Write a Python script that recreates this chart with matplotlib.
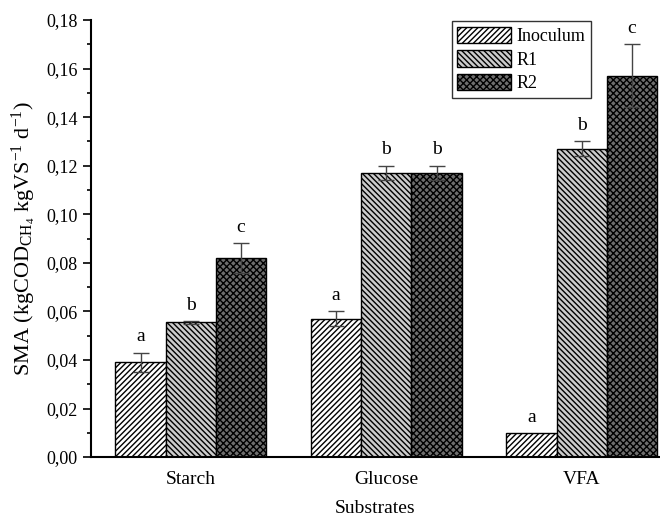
import matplotlib
matplotlib.use("Agg")
import matplotlib.pyplot as plt
import numpy as np

plt.rcParams['font.family'] = ['Liberation Serif', 'DejaVu Serif']
plt.rcParams['mathtext.fontset'] = 'custom'
plt.rcParams['mathtext.rm'] = 'Liberation Serif'
plt.rcParams['mathtext.it'] = 'Liberation Serif'
plt.rcParams['hatch.linewidth'] = 1.0

substrates = ["Starch", "Glucose", "VFA"]
series = ["Inoculum", "R1", "R2"]
inoculum = [0.039, 0.057, 0.010]
inoculum_err = [0.004, 0.003, 0.0]
r1 = [0.0555, 0.117, 0.127]
r1_err = [0.0005, 0.003, 0.003]
r2 = [0.082, 0.117, 0.157]
r2_err = [0.006, 0.003, 0.013]
letters = [["a", "a", "a"], ["b", "b", "b"], ["c", "b", "c"]]

values = [inoculum, r1, r2]
errors = [inoculum_err, r1_err, r2_err]
colors = ["white", "#cccccc", "#6e6e6e"]
hatches = ["//////", "\\\\\\\\\\\\", "xxxxx"]

fig = plt.figure(figsize=(6.6, 5.2), dpi=100)
ax = fig.add_axes([0.138, 0.121, 0.862, 0.8405])

x = np.arange(len(substrates))
width = 0.257
for i in range(3):
    pos = x + (i - 1) * width
    ax.bar(pos, values[i], width, color=colors[i], edgecolor="black", hatch=hatches[i],
           linewidth=1.0, label=series[i])
    err = np.array(errors[i])
    mask = err > 0
    ax.errorbar(pos[mask], np.array(values[i])[mask], yerr=err[mask], fmt="none",
                ecolor="#444444", elinewidth=1.0, capsize=6, capthick=1.0)
    for j in range(3):
        top = values[i][j] + errors[i][j]
        ax.text(pos[j], top + 0.003, letters[i][j], ha="center", va="bottom", fontsize=14)

ax.set_xlim(-0.51, 2.4)
ax.set_ylim(0, 0.18)
ax.set_yticks(np.arange(0, 0.181, 0.02))
ax.set_yticklabels([("%.2f" % v).replace(".", ",") for v in np.arange(0, 0.181, 0.02)])
ax.set_yticks(np.arange(0.01, 0.18, 0.02), minor=True)
ax.tick_params(axis="y", which="major", direction="out", length=6, width=1.2, labelsize=13)
ax.tick_params(axis="y", which="minor", direction="out", length=3, width=1.2)
ax.set_xticks(x)
ax.set_xticklabels(substrates)
ax.tick_params(axis="x", length=0, labelsize=14, pad=10)

ax.spines["top"].set_visible(False)
ax.spines["right"].set_visible(False)
ax.spines["left"].set_linewidth(1.5)
ax.spines["bottom"].set_linewidth(1.5)

ax.set_xlabel("Substrates", fontsize=14, labelpad=9)
ax.set_ylabel(r"SMA (kgCOD$_{\mathrm{CH_4}}$ kgVS$^{-1}$ d$^{-1}$)", fontsize=16, labelpad=6)

leg = ax.legend(loc="upper right", bbox_to_anchor=(0.879, 0.997), fontsize=13, frameon=True,
                fancybox=False, edgecolor="black", handlelength=3.0, handleheight=1.0,
                borderpad=0.3, labelspacing=0.3, handletextpad=0.3, borderaxespad=0)
leg.get_frame().set_linewidth(1.0)

fig.savefig("out.png", dpi=100)
